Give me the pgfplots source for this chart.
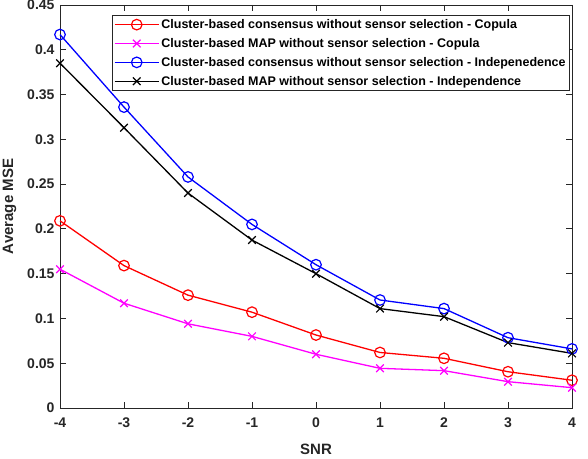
\documentclass[border=0pt]{standalone}
\usepackage{fontspec}
\setmainfont{Liberation Sans}
\usepackage{pgfplots}
\pgfplotsset{compat=1.18}
\definecolor{mgray}{RGB}{38,38,38}
\definecolor{mmag}{RGB}{255,0,255}
\begin{document}
\begin{tikzpicture}
\begin{axis}[
 at={(0,0)}, anchor=south west,
 scale only axis, width=512pt, height=403pt,
 xmin=-4, xmax=4, ymin=0, ymax=0.45,
 clip=false,
 xtick={-4,-3,-2,-1,0,1,2,3,4},
 xticklabels={-4,-3,-2,-1,0,1,2,3,4},
 ytick={0,0.05,0.1,0.15,0.2,0.25,0.3,0.35,0.4,0.45},
 yticklabels={0,0.05,0.1,0.15,0.2,0.25,0.3,0.35,0.4,0.45},
 tick align=inside,
 major tick length=6pt,
 axis line style={mgray, line width=0.8pt},
 tick style={mgray, line width=0.8pt},
 tick label style={font=\fontsize{14}{16}\selectfont\bfseries, text=mgray},
 xticklabel style={yshift=-6pt},
 yticklabel style={xshift=-2pt},
 xlabel={SNR}, ylabel={Average MSE},
 label style={font=\fontsize{15}{17}\selectfont\bfseries, text=mgray},
 xlabel style={at={(axis description cs:0.5,-0.1017)}, anchor=center},
 ylabel style={at={(axis description cs:-0.0986,0.5)}, anchor=center},
 legend cell align=left,
 legend style={at={(rel axis cs:0.996,0.975)}, anchor=north east, draw=mgray, line width=0.6pt, fill=white,
   font=\fontsize{12.5}{14}\selectfont\bfseries, text=black, inner sep=2pt, row sep=4.3pt},
 legend image code/.code={\draw[mark repeat=2,mark phase=2] plot coordinates {(0pt,0pt) (22pt,0pt) (44pt,0pt)};},
 every axis plot/.append style={line width=1.3pt},
]
\addplot[red, mark=o, mark size=5.3pt, mark options={line width=1.2pt}] coordinates {(-4,0.209)(-3,0.159)(-2,0.126)(-1,0.107)(0,0.0815)(1,0.062)(2,0.0555)(3,0.0405)(4,0.031)};
\addlegendentry{Cluster-based consensus without sensor selection - Copula}
\addplot[mmag, mark=x, mark size=5.4pt, mark options={line width=1.2pt}] coordinates {(-4,0.155)(-3,0.117)(-2,0.094)(-1,0.080)(0,0.060)(1,0.0443)(2,0.0417)(3,0.0294)(4,0.0227)};
\addlegendentry{Cluster-based MAP without sensor selection - Copula}
\addplot[blue, mark=o, mark size=5.3pt, mark options={line width=1.2pt}] coordinates {(-4,0.417)(-3,0.336)(-2,0.258)(-1,0.205)(0,0.160)(1,0.1206)(2,0.111)(3,0.0785)(4,0.066)};
\addlegendentry{Cluster-based consensus without sensor selection - Indepenedence}
\addplot[black, mark=x, mark size=5.4pt, mark options={line width=1.2pt}] coordinates {(-4,0.385)(-3,0.313)(-2,0.240)(-1,0.1875)(0,0.150)(1,0.111)(2,0.102)(3,0.073)(4,0.061)};
\addlegendentry{Cluster-based MAP without sensor selection - Independence}
\end{axis}
\pgfresetboundingbox
\path (-60pt,-50pt) rectangle (528pt,408pt);
\end{tikzpicture}
\end{document}
